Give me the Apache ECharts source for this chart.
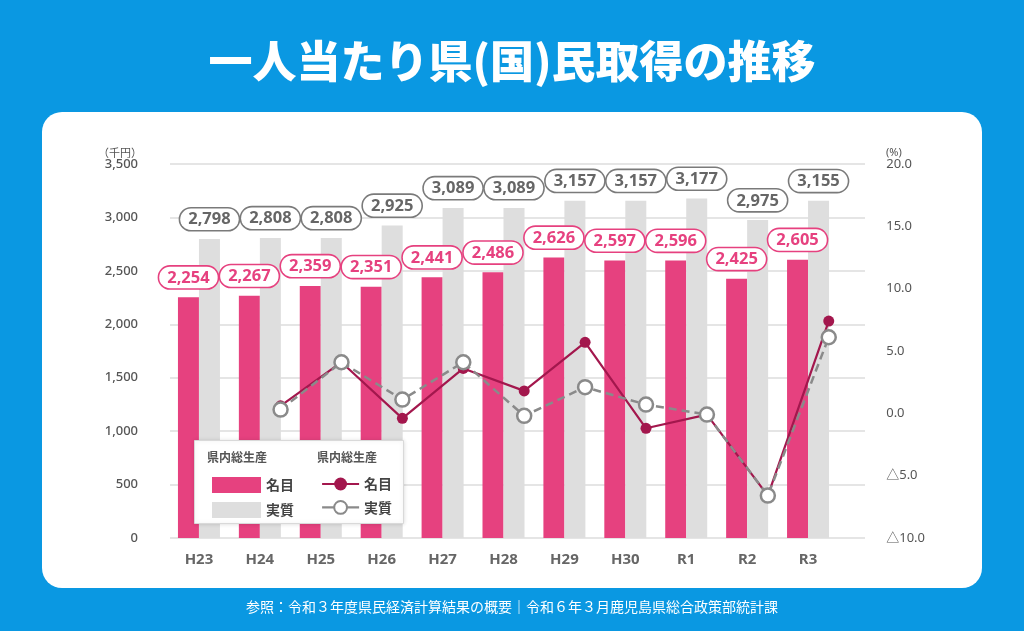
<!DOCTYPE html>
<html>
<head>
<meta charset="utf-8">
<script src="https://cdn.jsdelivr.net/npm/echarts@6/dist/echarts.min.js"></script>
<style>
html,body{margin:0;padding:0;background:#0a98e2;}
#chart{width:1024px;height:631px;}
</style>
</head>
<body>
<div id="chart"></div>
<script>
// ---- data ----
const categories = ['H23','H24','H25','H26','H27','H28','H29','H30','R1','R2','R3'];
const nominalIncome = [2254, 2267, 2359, 2351, 2441, 2486, 2626, 2597, 2596, 2425, 2605];
const realIncome    = [2798, 2808, 2808, 2925, 3089, 3089, 3157, 3157, 3177, 2975, 3155];
const nominalGrowth = [null, 0.6, 4.1, -0.4, 3.6, 1.8, 5.7, -1.2, -0.1, -6.6, 7.4];
const realGrowth    = [null, 0.3, 4.1, 1.1, 4.1, -0.2, 2.1, 0.7, -0.1, -6.6, 6.1];
const incomeAxis = {min: 0, max: 3500, interval: 500};
const growthAxis = {min: -10, max: 20, interval: 5};

const PINK = '#e6417f', GRAYBAR = '#dedede', WINE = '#a3174d', GRAYLINE = '#8a8a8a';
const numFont = "'Noto Sans', 'Noto Sans CJK JP', sans-serif";
const jpFont = "'Noto Sans CJK JP', sans-serif";
const fmt = v => v.toLocaleString('en-US');

const chart = echarts.init(document.getElementById('chart'), null, {renderer: 'canvas'});
const gridTop = 164, gridHeight = 374;

function pill(color, textColor) {
  return {
    show: true, position: 'top', distance: 9,
    formatter: p => fmt(p.value),
    color: textColor, fontFamily: numFont, fontWeight: 'bold', fontSize: 16.5,
    backgroundColor: '#fff', borderColor: color, borderWidth: 1.6, borderRadius: 12,
    padding: [3, 8, 2, 8]
  };
}

chart.setOption({
  backgroundColor: '#0a98e2',
  animation: false,
  grid: [
    {left: 170, width: 695, top: gridTop, height: gridHeight},   // gridlines & left axis
    {left: 168.5, width: 670, top: gridTop, height: gridHeight}, // bars
    {left: 189.2, width: 670, top: gridTop, height: gridHeight}  // lines
  ],
  xAxis: [
    {gridIndex: 0, type: 'category', data: categories, show: false},
    {gridIndex: 1, type: 'category', data: categories,
      axisLine: {show: false}, axisTick: {show: false},
      axisLabel: {color: '#666', fontFamily: numFont, fontWeight: 'bold', fontSize: 15, margin: 14}},
    {gridIndex: 2, type: 'category', data: categories, show: false}
  ],
  yAxis: [
    {gridIndex: 0, type: 'value', min: incomeAxis.min, max: incomeAxis.max, interval: incomeAxis.interval,
      axisLine: {show: false}, axisTick: {show: false},
      axisLabel: {color: '#555', fontFamily: numFont, fontWeight: 500, fontSize: 13, margin: 32, formatter: v => fmt(v)},
      splitLine: {lineStyle: {color: '#dcdcdc', width: 1.5}}},
    {gridIndex: 1, type: 'value', min: incomeAxis.min, max: incomeAxis.max, interval: incomeAxis.interval, show: false},
    {gridIndex: 2, type: 'value', position: 'right', min: growthAxis.min, max: growthAxis.max, interval: growthAxis.interval,
      axisLine: {show: false}, axisTick: {show: false}, splitLine: {show: false},
      axisLabel: {color: '#555', fontFamily: numFont, fontSize: 13, margin: 27,
        formatter: v => (v < 0 ? '△' + Math.abs(v).toFixed(1) : v.toFixed(1))}}
  ],
  legend: [
    {left: 207, top: 472, orient: 'vertical', z: 20, itemWidth: 49, itemHeight: 16, itemGap: 9,
      icon: 'rect', selectedMode: false, data: ['名目', '実質'],
      textStyle: {color: '#444', fontFamily: jpFont, fontWeight: 'bold', fontSize: 14}},
    {left: 316, top: 472, orient: 'vertical', z: 20, itemWidth: 37, itemHeight: 16, itemGap: 9,
      selectedMode: false, data: ['名目率', '実質率'],
      lineStyle: {type: 'solid', width: 2.2},
      formatter: n => n.replace('率', ''),
      textStyle: {color: '#444', fontFamily: jpFont, fontWeight: 'bold', fontSize: 14}}
  ],
  series: [
    {name: '名目', type: 'bar', xAxisIndex: 1, yAxisIndex: 1, data: nominalIncome,
      barWidth: 21, barGap: '0%', itemStyle: {color: PINK}, label: pill(PINK, PINK), z: 2},
    {name: '実質', type: 'bar', xAxisIndex: 1, yAxisIndex: 1, data: realIncome,
      barWidth: 21, barGap: '0%', itemStyle: {color: GRAYBAR}, label: pill('#7a7a7a', '#666'), z: 2},
    {name: '名目率', type: 'line', xAxisIndex: 2, yAxisIndex: 2, data: nominalGrowth,
      symbol: 'circle', symbolSize: 11, itemStyle: {color: WINE},
      lineStyle: {color: WINE, width: 2.2}, z: 3},
    {name: '実質率', type: 'line', xAxisIndex: 2, yAxisIndex: 2, data: realGrowth,
      symbol: 'circle', symbolSize: 14, itemStyle: {color: '#fff', borderColor: GRAYLINE, borderWidth: 2.5},
      lineStyle: {color: GRAYLINE, width: 2.5, type: [8, 5]}, z: 4}
  ],
  graphic: [
    {type: 'rect', z: -10, silent: true, shape: {x: 42, y: 112, width: 940, height: 476, r: 20}, style: {fill: '#fff'}},
    {type: 'text', z: 10, left: 'center', top: 39, style: {text: '一人当たり県(国)民取得の推移', fill: '#fff',
      font: "900 44px 'Noto Sans CJK JP', sans-serif"}},
    {type: 'text', z: 10, left: 'center', top: 600, style: {text: '参照：令和３年度県民経済計算結果の概要｜令和６年３月鹿児島県総合政策部統計課',
      fill: '#fff', font: "14px 'Noto Sans CJK JP', sans-serif"}},
    {type: 'text', z: 10, x: 142, y: 153, style: {text: '（千円）', fill: '#555', align: 'right', verticalAlign: 'middle',
      font: "11px 'Noto Sans CJK JP', sans-serif"}},
    {type: 'text', z: 10, x: 886, y: 153, style: {text: '(%)', fill: '#555', align: 'left', verticalAlign: 'middle',
      font: "11px 'Noto Sans', sans-serif"}},
    {type: 'rect', z: 15, silent: true, shape: {x: 194.5, y: 440.5, width: 209, height: 83},
      style: {fill: '#fff', stroke: '#d9d9d9', lineWidth: 1, shadowBlur: 4, shadowColor: 'rgba(0,0,0,0.12)'}},
    {type: 'text', z: 20, x: 207, y: 457, style: {text: '県内総生産', fill: '#555', verticalAlign: 'middle',
      font: "bold 12px 'Noto Sans CJK JP', sans-serif"}},
    {type: 'text', z: 20, x: 317, y: 457, style: {text: '県内総生産', fill: '#555', verticalAlign: 'middle',
      font: "bold 12px 'Noto Sans CJK JP', sans-serif"}}
  ]
});
</script>
</body>
</html>
